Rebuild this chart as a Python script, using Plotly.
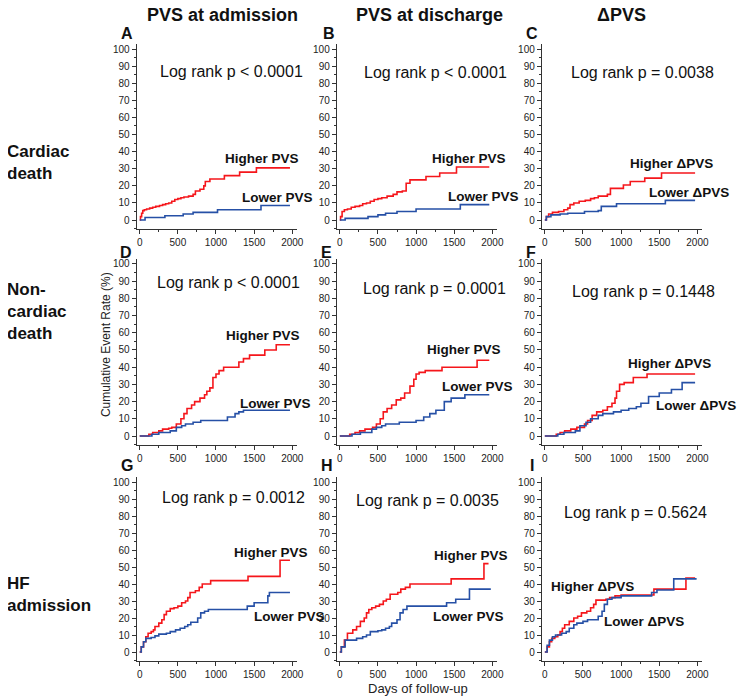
import plotly.graph_objects as go
from plotly.subplots import make_subplots

# the page puts the figure 8px in from the top-left corner
OFF = 8
W, H = 746 - OFF, 697 - OFF

# ---- data, cumulative event rate in % ----
# A: cardiac death, PVS at admission
a_hi_days = [0, 10, 25, 40, 60, 90, 130, 170, 210, 260, 300, 340, 380, 420, 460, 500, 540, 580, 640, 700, 730, 790, 840, 860, 920, 1110, 1310, 1530, 1970]
a_hi_pct = [0, 2, 4, 5.5, 6, 6.5, 7, 7.5, 8, 8.5, 9, 9.5, 10, 11, 12, 12.5, 13, 13.5, 14, 15, 17, 18, 20, 22.5, 24, 26, 28, 30.5, 30.5]
a_lo_days = [0, 70, 330, 570, 700, 1020, 1590, 1970]
a_lo_pct = [0, 1.5, 2.5, 3.5, 4.5, 6, 8.5, 8.5]
# B: cardiac death, PVS at discharge
b_hi_days = [0, 10, 30, 60, 100, 150, 200, 260, 300, 350, 400, 450, 500, 550, 620, 700, 750, 820, 870, 920, 1130, 1310, 1530, 1960]
b_hi_pct = [0, 2, 5, 6, 6.5, 7.5, 8, 8.5, 9.5, 10, 11, 12, 12.5, 13, 14, 15, 16.5, 17, 21.5, 23.5, 25.5, 27.5, 31, 31]
b_lo_days = [0, 70, 370, 500, 600, 750, 1000, 1580, 1960]
b_lo_pct = [0, 1, 2, 3, 4, 5, 6.5, 9, 9]
# C: cardiac death, delta PVS
c_hi_days = [0, 20, 50, 100, 180, 250, 300, 330, 380, 450, 530, 600, 650, 700, 820, 860, 1030, 1120, 1310, 1530, 1970]
c_hi_pct = [0, 2, 3.5, 4.5, 5, 6, 7, 9, 10, 11, 11.5, 12.5, 13, 14, 15, 18.5, 20.5, 22.5, 24.5, 27.5, 27.5]
c_lo_days = [0, 20, 80, 200, 300, 520, 700, 740, 940, 1580, 1970]
c_lo_pct = [0, 2, 3, 3.5, 4, 5, 5.5, 8, 9.5, 11.5, 11.5]
# D: non-cardiac death, PVS at admission
d_hi_days = [0, 120, 170, 250, 300, 380, 420, 480, 540, 580, 620, 680, 720, 790, 850, 880, 920, 960, 1000, 1040, 1100, 1300, 1360, 1440, 1640, 1790, 1970]
d_hi_pct = [0, 1, 2, 3, 4, 4.5, 5, 7, 10, 13, 16, 18, 20, 22, 24, 26, 28, 34, 36, 38, 40, 43, 45, 47, 50, 53, 53]
d_lo_days = [0, 160, 250, 400, 480, 550, 600, 700, 800, 1150, 1250, 1300, 1360, 1970]
d_lo_pct = [0, 1, 2, 3, 5, 6, 7, 8, 9, 11, 13, 14, 15, 15]
# E: non-cardiac death, PVS at discharge
e_hi_days = [0, 130, 200, 260, 330, 430, 480, 530, 570, 620, 680, 740, 800, 850, 920, 970, 1000, 1040, 1120, 1340, 1800, 1960]
e_hi_pct = [0, 1, 2, 3, 4, 5, 7, 10, 14, 16, 18, 21, 22, 25, 29, 33, 36, 37, 38, 40, 44, 44]
e_lo_days = [0, 160, 270, 420, 480, 550, 600, 780, 1000, 1100, 1180, 1260, 1370, 1460, 1640, 1960]
e_lo_pct = [0, 1, 2, 4, 5, 6, 7, 8, 9, 11, 13, 15, 20, 22, 24, 24]
# F: non-cardiac death, delta PVS
f_hi_days = [0, 150, 200, 260, 340, 420, 520, 560, 620, 680, 760, 820, 880, 920, 940, 980, 1040, 1160, 1340, 1970]
f_hi_pct = [0, 1, 2, 3, 4, 5, 7, 9, 12, 14, 15, 17, 19, 22, 26, 30, 31, 34, 36, 36]
f_lo_days = [0, 170, 250, 400, 460, 540, 600, 700, 760, 900, 1000, 1100, 1200, 1260, 1360, 1500, 1660, 1800, 1970]
f_lo_pct = [0, 1, 2, 3, 6, 8, 10, 12, 13, 14, 15, 16, 17, 19, 23, 25, 27, 31, 31]
# G: HF admission, PVS at admission
g_hi_days = [0, 20, 50, 80, 110, 150, 180, 200, 250, 290, 320, 350, 400, 450, 500, 550, 600, 630, 660, 730, 780, 820, 930, 1420, 1840, 1970]
g_hi_pct = [0, 3, 6, 9, 11, 12, 13, 15, 17, 19, 22, 24, 25.5, 26, 27, 29, 30, 32, 35, 36, 38, 40, 42, 44.5, 54, 54]
g_lo_days = [0, 20, 50, 80, 150, 200, 250, 350, 400, 470, 530, 590, 630, 670, 760, 800, 850, 900, 1410, 1500, 1680, 1700, 1970]
g_lo_pct = [0, 3, 6, 8, 8.5, 9.5, 10.5, 11, 12, 13, 14, 15, 16, 17.5, 20, 23, 24, 25, 27, 29, 33, 35, 35]
# H: HF admission, PVS at discharge
h_hi_days = [0, 20, 60, 100, 170, 220, 270, 320, 350, 380, 420, 470, 520, 570, 610, 660, 760, 800, 860, 920, 1460, 1890, 1950]
h_hi_pct = [0, 3, 7, 11, 13, 15, 18, 20, 23, 25, 26, 27, 28, 30, 31, 34, 35, 37, 38, 40, 43, 52, 52]
h_lo_days = [0, 20, 70, 220, 300, 350, 400, 500, 550, 600, 650, 680, 750, 790, 830, 880, 1400, 1520, 1700, 1980]
h_lo_pct = [0, 3, 7, 8, 9, 10, 12, 12.5, 13, 14, 15, 17, 19, 23, 25, 27, 29, 31, 37, 37]
# I: HF admission, delta PVS
i_hi_days = [0, 30, 60, 90, 130, 170, 200, 230, 260, 320, 380, 430, 480, 550, 600, 640, 670, 800, 850, 920, 1000, 1430, 1850, 1970]
i_hi_pct = [0, 3, 6, 8, 9, 10, 12, 14, 16, 18, 20, 21, 23, 24, 26, 28, 30.5, 31, 32, 33, 33.5, 37, 43.5, 43.5]
i_lo_days = [0, 30, 60, 100, 140, 220, 280, 320, 380, 420, 500, 560, 700, 750, 780, 820, 880, 1000, 1400, 1470, 1690, 1990]
i_lo_pct = [0, 4, 7, 9, 10, 11, 12, 14, 16, 17, 18, 19, 21, 24, 28, 31, 32, 33, 35, 36.5, 43, 43]

panel_letters = ["A", "B", "C", "D", "E", "F", "G", "H", "I"]
logrank = ["Log rank p < 0.0001", "Log rank p < 0.0001", "Log rank p = 0.0038",
           "Log rank p < 0.0001", "Log rank p = 0.0001", "Log rank p = 0.1448",
           "Log rank p = 0.0012", "Log rank p = 0.0035", "Log rank p = 0.5624"]
col_titles = ["PVS at admission", "PVS at discharge", "ΔPVS"]
row_titles = ["Cardiac<br>death", "Non-<br>cardiac<br>death", "HF<br>admission"]
hi_names = ["Higher PVS", "Higher PVS", "Higher ΔPVS"]
lo_names = ["Lower PVS", "Lower PVS", "Lower ΔPVS"]

curves = [
    (a_hi_days, a_hi_pct, a_lo_days, a_lo_pct),
    (b_hi_days, b_hi_pct, b_lo_days, b_lo_pct),
    (c_hi_days, c_hi_pct, c_lo_days, c_lo_pct),
    (d_hi_days, d_hi_pct, d_lo_days, d_lo_pct),
    (e_hi_days, e_hi_pct, e_lo_days, e_lo_pct),
    (f_hi_days, f_hi_pct, f_lo_days, f_lo_pct),
    (g_hi_days, g_hi_pct, g_lo_days, g_lo_pct),
    (h_hi_days, h_hi_pct, h_lo_days, h_lo_pct),
    (i_hi_days, i_hi_pct, i_lo_days, i_lo_pct),
]

# label placement (data coords): log rank, higher, lower
logrank_pos = [(1200, 87), (1252, 86.5), (1277, 86.5),
               (1161, 89), (1239, 86), (1290, 84),
               (1226, 90.6), (1148, 89), (1187, 82)]
hi_pos = [(1597, 36), (1688, 36), (1662, 33),
          (1610, 58.7), (1623, 50), (1636, 42.4),
          (1727, 58.8), (1714, 57), (623, 38.8)]
lo_pos = [(1805, 13), (1883, 13.5), (1896, 16.4),
          (1780, 19), (1805, 28.5), (1987, 18),
          (1961, 20.6), (1688, 21), (1300, 18)]

RED = "#f5161b"
BLUE = "#2650a6"
FONT = "Liberation Sans, Arial, sans-serif"

# pixel frames of each plot area (page pixels)
col_px = [(137.9, 299.6), (339.9, 501.6), (546.9, 708.6)]
row_px = [(43.9, 228.6), (258.8, 444.6), (476.9, 660.5)]


def fx(px):
    return (px - OFF) / W


def fy(py):
    return 1 - (py - OFF) / H


fig = make_subplots(rows=3, cols=3)

for k, (hx, hy, lx, ly) in enumerate(curves):
    r, c = k // 3 + 1, k % 3 + 1
    fig.add_trace(go.Scatter(x=hx, y=hy, mode="lines", line=dict(color=RED, width=1.6, shape="hv"),
                             showlegend=False, hoverinfo="skip"), row=r, col=c)
    fig.add_trace(go.Scatter(x=lx, y=ly, mode="lines", line=dict(color=BLUE, width=1.6, shape="hv"),
                             showlegend=False, hoverinfo="skip"), row=r, col=c)

annos = []
for k in range(9):
    r, c = k // 3, k % 3
    n = "" if k == 0 else str(k + 1)
    x0, x1 = col_px[c]
    y0, y1 = row_px[r]
    fig.layout["xaxis" + n].update(
        domain=[fx(x0), fx(x1)], range=[-40, 2060], tickvals=[0, 500, 1000, 1500, 2000],
        showline=True, linecolor="#333", linewidth=1, ticks="outside", ticklen=4, tickcolor="#333",
        showgrid=False, zeroline=False, tickfont=dict(family=FONT, size=10, color="#222"),
        minor=dict(dtick=250, ticks="outside", ticklen=2, tickcolor="#333"))
    fig.layout["yaxis" + n].update(
        domain=[fy(y1), fy(y0)], range=[-5, 103], tickvals=list(range(0, 101, 10)),
        showline=True, linecolor="#333", linewidth=1, ticks="outside", ticklen=4, tickcolor="#333",
        showgrid=False, zeroline=False, tickfont=dict(family=FONT, size=10, color="#222"),
        minor=dict(dtick=5, ticks="outside", ticklen=2, tickcolor="#333"))
    xr = "x" + n
    yr = "y" + n
    annos.append(dict(x=logrank_pos[k][0], y=logrank_pos[k][1], xref=xr, yref=yr, text=logrank[k],
                      showarrow=False, xanchor="center", yanchor="middle",
                      font=dict(family=FONT, size=16, color="#111")))
    annos.append(dict(x=hi_pos[k][0], y=hi_pos[k][1], xref=xr, yref=yr, text="<b>%s</b>" % hi_names[c],
                      showarrow=False, xanchor="center", yanchor="middle",
                      font=dict(family=FONT, size=13.5, color="#111")))
    annos.append(dict(x=lo_pos[k][0], y=lo_pos[k][1], xref=xr, yref=yr, text="<b>%s</b>" % lo_names[c],
                      showarrow=False, xanchor="center", yanchor="middle",
                      font=dict(family=FONT, size=13.5, color="#111")))

# panel letters
letter_px = [(128, 33), (332, 33), (537, 33), (127, 252), (330, 252), (536, 252), (128, 465), (330, 465), (537, 465)]
for k, (px, py) in enumerate(letter_px):
    annos.append(dict(x=fx(px), y=fy(py), xref="paper", yref="paper", text="<b>%s</b>" % panel_letters[k],
                      showarrow=False, xanchor="center", yanchor="middle",
                      font=dict(family=FONT, size=16, color="#111")))

# column titles
for c, cx in enumerate([225, 434, 627]):
    annos.append(dict(x=fx(cx), y=fy(15), xref="paper", yref="paper", text="<b>%s</b>" % col_titles[c],
                      showarrow=False, xanchor="center", yanchor="middle",
                      font=dict(family=FONT, size=18, color="#111")))

# row titles
for r, cy in enumerate([162, 311, 594]):
    annos.append(dict(x=fx(5), y=fy(cy), xref="paper", yref="paper", text="<b>%s</b>" % row_titles[r],
                      showarrow=False, xanchor="left", yanchor="middle", align="left",
                      font=dict(family=FONT, size=17, color="#111")))

annos.append(dict(x=fx(107), y=fy(345), xref="paper", yref="paper", text="Cumulative Event Rate (%)",
                  showarrow=False, textangle=-90, xanchor="center", yanchor="middle",
                  font=dict(family=FONT, size=12, color="#222")))
annos.append(dict(x=fx(422), y=fy(688), xref="paper", yref="paper", text="Days of follow-up",
                  showarrow=False, xanchor="center", yanchor="middle",
                  font=dict(family=FONT, size=13, color="#222")))

fig.update_layout(width=W, height=H, margin=dict(l=0, r=0, t=0, b=0),
                  paper_bgcolor="white", plot_bgcolor="white", annotations=annos)

fig.write_html("out.html")
